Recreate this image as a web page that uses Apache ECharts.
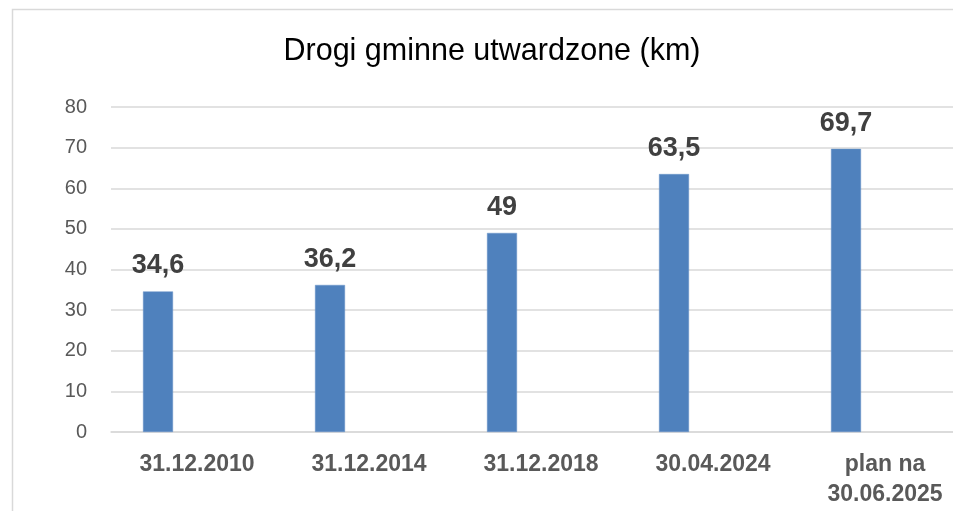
<!DOCTYPE html>
<html>
<head>
<meta charset="utf-8">
<script src="https://cdn.jsdelivr.net/npm/echarts@6/dist/echarts.min.js"></script>
<style>
html,body{margin:0;padding:0;background:#fff;overflow:hidden;width:953px;height:511px;}
#c{width:985px;height:511px;}
</style>
</head>
<body>
<div id="c"></div>
<script>
var titleText = 'Drogi gminne utwardzone (km)';
var categories = ['31.12.2010', '31.12.2014', '31.12.2018', '30.04.2024', 'plan na\n30.06.2025'];
var values = [34.6, 36.2, 49, 63.5, 69.7];
var emptySeries = [null, null, null, null, null];
var yTicks = [0, 10, 20, 30, 40, 50, 60, 70, 80];

var chart = echarts.init(document.getElementById('c'), null, {renderer: 'canvas'});
chart.setOption({
  backgroundColor: '#fff',
  animation: false,
  graphic: [{
    type: 'rect',
    shape: {x: 12.5, y: 9.5, width: 1000, height: 600},
    style: {fill: 'none', stroke: '#d9d9d9', lineWidth: 1.5},
    silent: true
  }],
  title: {
    text: titleText,
    left: 487,
    textAlign: 'center',
    top: 31,
    textStyle: {fontFamily: 'Liberation Sans', fontSize: 30.5, fontWeight: 'normal', color: '#000'}
  },
  grid: {left: 111, right: 14, top: 107, bottom: 79, containLabel: false},
  xAxis: {
    type: 'category',
    data: categories,
    axisLine: {lineStyle: {color: '#d9d9d9', width: 1.5}},
    axisTick: {show: false},
    axisLabel: {
      interval: 0,
      margin: 18,
      fontFamily: 'Liberation Sans',
      fontWeight: 'bold',
      fontSize: 23,
      lineHeight: 30,
      color: '#595959'
    }
  },
  yAxis: {
    type: 'value',
    min: yTicks[0],
    max: yTicks[yTicks.length - 1],
    interval: 10,
    axisLine: {show: false},
    axisTick: {show: false},
    splitLine: {lineStyle: {color: '#d9d9d9', width: 1.5}},
    axisLabel: {
      margin: 24,
      fontFamily: 'Liberation Sans',
      fontSize: 20,
      color: '#595959'
    }
  },
  series: [{
    type: 'bar',
    data: values,
    barWidth: 30,
    barGap: '160%',
    itemStyle: {color: '#4f81bd', borderColor: '#6a95c9', borderWidth: 0.5},
    label: {
      show: true,
      position: 'top',
      distance: 12,
      fontFamily: 'Liberation Sans',
      fontWeight: 'bold',
      fontSize: 27,
      color: '#404040',
      formatter: function (p) { return String(p.value).replace('.', ','); }
    }
  }, {
    type: 'bar',
    data: emptySeries,
    barWidth: 30,
    itemStyle: {color: '#c0504d'}
  }]
});
</script>
</body>
</html>
